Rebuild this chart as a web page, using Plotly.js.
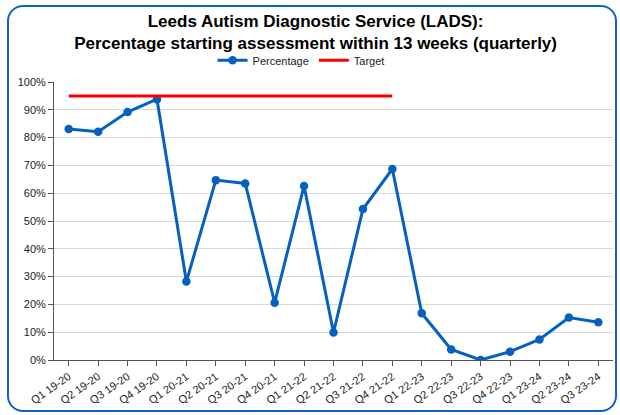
<!DOCTYPE html>
<html>
<head>
<meta charset="utf-8">
<script src="https://cdn.plot.ly/plotly-3.0.1.min.js"></script>
<style>
  html, body { margin: 0; padding: 0; background: #fff; }
  #wrap { position: relative; width: 620px; height: 415px; overflow: hidden; }
  #frame { position: absolute; left: 7px; top: 5px; width: 606px; height: 403px;
           border: 2px solid #0b64c0; border-radius: 16px; pointer-events: none; }
  #chart { position: absolute; left: 0; top: 0; width: 620px; height: 415px; }
</style>
</head>
<body>
<div id="wrap">
  <div id="chart"></div>
  <div id="frame"></div>
</div>
<script>
// LADS quarterly: % starting assessment within 13 weeks
const quarters = ['Q1 19-20', 'Q2 19-20', 'Q3 19-20', 'Q4 19-20', 'Q1 20-21', 'Q2 20-21',
    'Q3 20-21', 'Q4 20-21', 'Q1 21-22', 'Q2 21-22', 'Q3 21-22', 'Q4 21-22', 'Q1 22-23',
    'Q2 22-23', 'Q3 22-23', 'Q4 22-23', 'Q1 23-24', 'Q2 23-24', 'Q3 23-24'];
const percentage = [83.1, 82.1, 89.2, 93.8, 28.2, 64.7, 63.5, 20.6, 62.6, 9.9, 54.3, 68.7,
    16.8, 3.8, 0, 3.0, 7.4, 15.3, 13.6];
const targetQuarters = quarters.slice(0, 12);
const target = [95, 95, 95, 95, 95, 95, 95, 95, 95, 95, 95, 95];

const traces = [
    {
        type: 'scatter',
        mode: 'lines+markers',
        name: 'Percentage',
        x: quarters,
        y: percentage,
        line: { color: '#0660bf', width: 3 },
        marker: { color: '#0660bf', size: 8.5, symbol: 'circle' },
    },
    {
        type: 'scatter',
        mode: 'lines',
        name: 'Target',
        x: targetQuarters,
        y: target,
        line: { color: '#ff0000', width: 3 },
    }
];

const layout = {
    width: 620,
    height: 415,
    paper_bgcolor: 'rgba(0,0,0,0)',
    plot_bgcolor: '#fff',
    font: { family: 'Liberation Sans, Arial, sans-serif', size: 11, color: '#222' },
    margin: { t: 82, r: 7, b: 55, l: 54 },
    title: {
        text: '<b>Leeds Autism Diagnostic Service (LADS):<br>Percentage starting assessment within 13 weeks (quarterly)</b>',
        font: { size: 17, color: '#000' },
        x: 0.509, xanchor: 'center',
        y: 0.934, yanchor: 'middle',
    },
    showlegend: true,
    legend: {
        orientation: 'h',
        x: 0.442, xanchor: 'center',
        y: 1.078, yanchor: 'middle',
        font: { size: 11, color: '#222' },
        itemwidth: 30,
        tracegroupgap: 0,
    },
    xaxis: {
        type: 'category',
        range: [-0.5, 18.5],
        tickangle: -35,
        ticks: 'outside',
        ticklen: 5,
        tickcolor: '#555',
        showline: true,
        linecolor: '#555',
        linewidth: 1,
        showgrid: false,
        tickfont: { size: 11, color: '#222' },
        fixedrange: true,
    },
    yaxis: {
        range: [0, 100],
        dtick: 10,
        ticksuffix: '%',
        ticks: 'outside',
        ticklen: 5,
        tickcolor: '#555',
        showline: true,
        linecolor: '#555',
        linewidth: 1,
        gridcolor: '#d9d9d9',
        gridwidth: 1,
        zeroline: false,
        tickfont: { size: 11, color: '#222' },
        fixedrange: true,
    },
};

Plotly.newPlot('chart', traces, layout, { displayModeBar: false, staticPlot: true });
</script>
</body>
</html>
